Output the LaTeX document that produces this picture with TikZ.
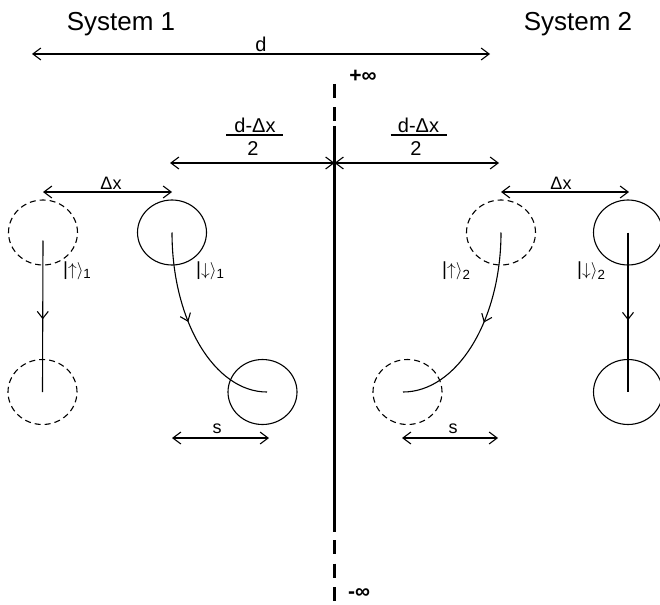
\documentclass[tikz,border=0pt]{standalone}
\usepackage{fontspec}
\setmainfont{Liberation Sans}
\usetikzlibrary{arrows.meta,decorations.markings,shapes.geometric}
\begin{document}
\begin{tikzpicture}[x=1pt,y=-1pt,
  tipbarb/.tip={Straight Barb[length=8pt,width=12pt,line width=1.1pt]},
  dimline/.style={tipbarb-tipbarb, line width=1.1pt},
  ball/.style={ellipse, draw, line width=1.1pt, minimum width=69pt, minimum height=65pt, inner sep=0pt},
  ghost/.style={ball, dash pattern=on 6pt off 4pt},
  path1/.style={line width=1.1pt, postaction={decorate},
    decoration={markings, mark=at position #1 with {\arrow{Straight Barb[length=7pt,width=11pt,line width=1.1pt]}}}},
  axisline/.style={line width=3pt},
  axisdash/.style={line width=3pt, dash pattern=on 14pt off 9.5pt},
  title/.style={inner sep=0pt, anchor=base, font=\fontsize{26}{30}\selectfont},
  lblbig/.style={inner sep=0pt, font=\fontsize{20}{24}\selectfont},
  lblinf/.style={inner sep=0pt, font=\fontsize{21}{24}\selectfont\bfseries},
  lblmid/.style={inner sep=0pt, font=\fontsize{18}{22}\selectfont},
  ketlbl/.style={inner sep=0pt, anchor=west, font=\fontsize{19}{22}\selectfont},
]
\useasboundingbox (0,0) rectangle (660,604);

% titles
\node[title] (sys1) at (121,31) {System 1};
\node[title] (sys2) at (578,31) {System 2};

% distance d
\coordinate (dL) at (32,54);
\coordinate (dR) at (490,54);
\draw[dimline] (dL) -- (dR);
\node[lblbig] (dlab) at (261,44) {d};

% central axis
\coordinate (axT) at (334.5,84);
\coordinate (axT2) at (334.5,124);
\coordinate (axS) at (334.5,126);
\coordinate (axE) at (334.5,532);
\coordinate (axB) at (334.5,540);
\coordinate (axB2) at (334.5,604);
\draw[axisdash] (axT) -- (axT2);
\draw[axisline] (axS) -- (axE);
\draw[axisdash] (axB) -- (axB2);
\node[lblinf] (pinf) at (363,76) {+∞};
\node[lblinf] (minf) at (359,594) {-∞};

% fractions
\node[lblbig] (n1) at (255,125) {d-Δx};
\node[lblbig] (den1) at (253,148.5) {2};
\draw[line width=1.1pt] (226,135) -- (283,135);
\node[lblbig] (n2) at (418.5,125) {d-Δx};
\node[lblbig] (den2) at (416,148.5) {2};
\draw[line width=1.1pt] (390.5,135) -- (447,135);

% half distances
\coordinate (hL) at (170,163);
\coordinate (hM) at (334.5,163);
\coordinate (hR) at (499,163);
\draw[dimline] (hL) -- (hM);
\draw[dimline] (hM) -- (hR);

% delta x
\coordinate (x1L) at (43,192);
\coordinate (x1R) at (172,192);
\coordinate (x2L) at (501,192);
\coordinate (x2R) at (629,192);
\draw[dimline] (x1L) -- (x1R);
\draw[dimline] (x2L) -- (x2R);
\node[lblmid, anchor=base] (dx1) at (111,189) {Δx};
\node[lblmid, anchor=base] (dx2) at (561,189) {Δx};

% balls system 1
\node[ghost] (u1) at (43,232.5) {};
\node[ghost] (u1b) at (42.5,392) {};
\node[ball] (d1) at (172,232.5) {};
\node[ball] (d1b) at (262.5,392) {};
% balls system 2
\node[ghost] (u2) at (501,232.5) {};
\node[ghost] (u2b) at (407.5,392) {};
\node[ball] (d2) at (628,232.5) {};
\node[ball] (d2b) at (628,392) {};

% trajectories
\draw[path1=0.52] ([yshift=-8pt]u1.center) -- (u1b.center);
\draw[path1=0.45] (d1.center) .. controls +(0,88.4) and +(-52.5,0) .. ([xshift=4.5pt]d1b.center);
\draw[path1=0.45] (u2.center) .. controls +(0,88.4) and +(53.6,0) .. ([xshift=-4.5pt]u2b.center);
\draw[path1=0.55] (d2.center) -- (d2b.center);

% kets
\node[ketlbl] (k1) at (63,271) {|$\uparrow\rangle$\textsubscript{1}};
\node[ketlbl] (k2) at (196,271) {|$\downarrow\rangle$\textsubscript{1}};
\node[ketlbl] (k3) at (442,271) {|$\uparrow\rangle$\textsubscript{2}};
\node[ketlbl] (k4) at (577,271) {|$\downarrow\rangle$\textsubscript{2}};

% s
\coordinate (s1L) at (172,438);
\coordinate (s1R) at (269,438);
\coordinate (s2L) at (402,438);
\coordinate (s2R) at (498,438);
\draw[dimline] (s1L) -- (s1R);
\draw[dimline] (s2L) -- (s2R);
\node[lblmid, anchor=base] (s1) at (217,433) {s};
\node[lblmid, anchor=base] (s2) at (453,433) {s};
\end{tikzpicture}
\end{document}
